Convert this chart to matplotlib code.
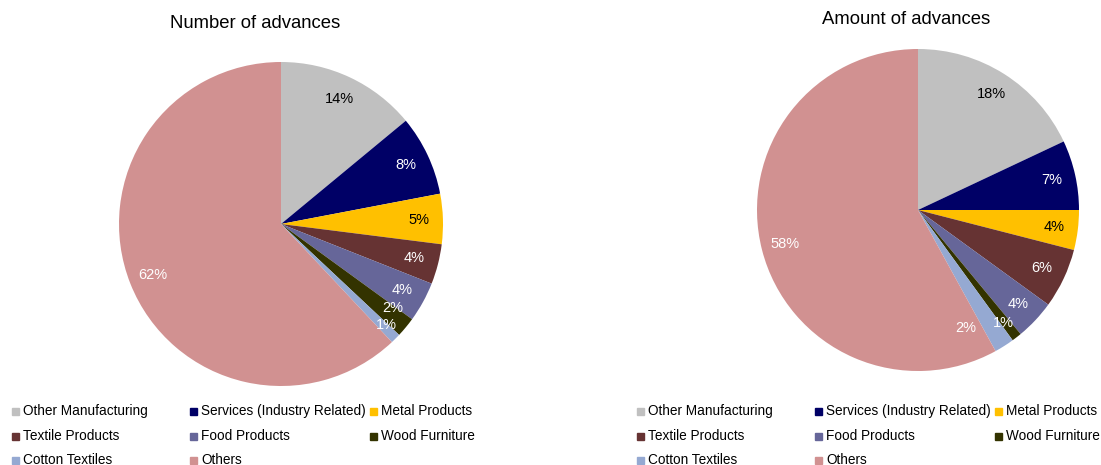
import matplotlib
matplotlib.use("Agg")
import matplotlib.pyplot as plt
from matplotlib.patches import Rectangle
import numpy as np

plt.rcParams['font.family'] = ['Liberation Sans', 'DejaVu Sans']

categories = ["Other Manufacturing", "Services (Industry Related)", "Metal Products",
              "Textile Products", "Food Products", "Wood Furniture",
              "Cotton Textiles", "Others"]
number_pct = [14, 8, 5, 4, 4, 2, 1, 62]
amount_pct = [18, 7, 4, 6, 4, 1, 2, 58]
titles = ["Number of advances", "Amount of advances"]

colors = ["#C0C0C0", "#000066", "#FFC000", "#663333",
          "#666699", "#333300", "#95A9D2", "#D19191"]
label_colors = ["black", "white", "black", "white",
                "white", "white", "white", "white"]

W, H = 1101, 465
fig = plt.figure(figsize=(W / 100, H / 100), dpi=100)

# pie centre (px), radius (px), title centre (px)
layout = [
    dict(cx=281, cy=224, r=162, tx=255, ty=23, lx=12),
    dict(cx=918, cy=210, r=161, tx=906, ty=20, lx=637),
]
# label nudges (polar: angle deg, radius fraction) for crowded slices
nudges = [{5: (-37, 0.86), 6: (-44, 0.90)},
          {5: (-53, 0.88), 6: (-68, 0.79)}]

for k, (vals, title, lay) in enumerate(zip([number_pct, amount_pct], titles, layout)):
    r = lay['r']
    ax = fig.add_axes([(lay['cx'] - r) / W, (H - lay['cy'] - r) / H, 2 * r / W, 2 * r / H])
    wedges, texts, autotexts = ax.pie(vals, colors=colors, startangle=90, counterclock=False,
                                      autopct='%d%%', pctdistance=0.85,
                                      textprops=dict(fontsize=10.5))
    for i, t in enumerate(autotexts):
        t.set_color(label_colors[i])
        t.set_text(f"{vals[i]}%")
        if i in nudges[k]:
            a, d = nudges[k][i]
            t.set_position((d * np.cos(np.radians(a)), d * np.sin(np.radians(a))))
    ax.set_xlim(-1, 1)
    ax.set_ylim(-1, 1)
    ax.axis('off')

    fig.text(lay['tx'] / W, 1 - lay['ty'] / H, title, ha='center', va='center', fontsize=13.3)

    # legend, three entries per row
    col_x = [0, 178, 358]
    row_y = [411, 436, 460]
    for i, name in enumerate(categories):
        x = lay['lx'] + col_x[i % 3]
        y = row_y[i // 3]
        fig.patches.append(Rectangle((x / W, 1 - (y + 3.5) / H), 7 / W, 7 / H,
                                     color=colors[i], transform=fig.transFigure, figure=fig))
        fig.text((x + 11) / W, 1 - y / H, name, ha='left', va='center', fontsize=9.8)

fig.savefig("out.png", dpi=100)
